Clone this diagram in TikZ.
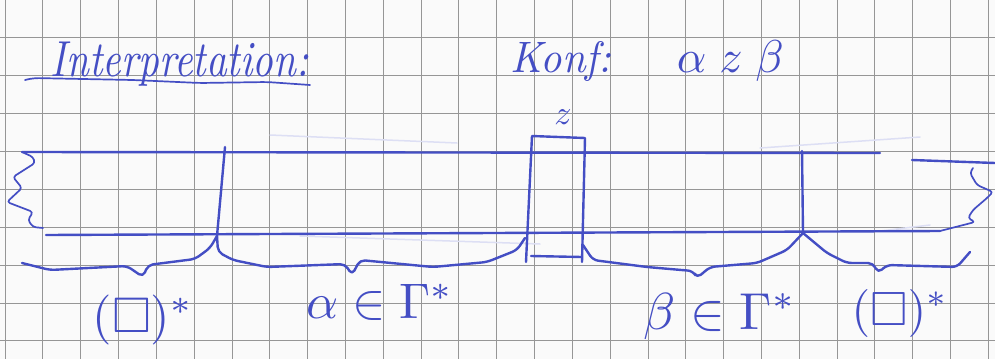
\documentclass[tikz,border=0pt]{standalone}
\usepackage{amssymb}
\usetikzlibrary{calc}
\definecolor{ink}{RGB}{68,78,196}
\definecolor{gridc}{RGB}{150,150,150}
\definecolor{paper}{RGB}{250,250,250}
\begin{document}
\begin{tikzpicture}[x=1pt,y=-1pt,
  pen/.style={draw=ink,line width=2.4pt,line cap=round,line join=round},
  thinpen/.style={draw=ink,line width=1.7pt,line cap=round,line join=round},
  faint/.style={draw=ink!18,line width=1.5pt,line cap=round},
  hand/.style={text=ink,inner sep=0pt},
  gridline/.style={draw=gridc,line width=0.8pt}]
\useasboundingbox (0,0) rectangle (995,359);
\fill[paper] (0,0) rectangle (995,359);
% grid paper
\foreach \k in {0,...,26} \draw[gridline] ({5+37.82*\k},0) -- ({5+37.82*\k},359);
\foreach \k in {0,...,9} \draw[gridline] (0,{-0.5+37.93*\k}) -- (995,{-0.5+37.93*\k});
% title
\node[hand,anchor=base west,font=\itshape,scale=4.6,xscale=0.88,yscale=1.1] (title) at (50,76) {Interpretation:};
\draw[thinpen,rounded corners=6pt] (25,80) -- (33,78) -- (133,80) -- (200,83) -- (267,82) -- (310,85);
\node[hand,anchor=base west,font=\itshape,scale=4.4,xscale=0.95] (konf) at (510,72) {Konf:};
\node[hand,anchor=base west,scale=4.6] (cfg) at (676,72) {$\alpha\; z\; \beta$};
% faint traces
\draw[faint] (270,135) -- (457,143);
\draw[faint] (760,148) -- (920,137);
\draw[faint] (300,236) -- (540,244);
\draw[faint] (880,231) -- (930,225);
% tape
\coordinate (tl) at (22,152);
\coordinate (tr) at (880,153);
\coordinate (bl) at (46,235);
\coordinate (br) at (940,231);
\draw[pen] (tl) -- (tr);
\draw[pen] (bl) -- (br);
\draw[thinpen,rounded corners=3pt] (tl) -- (33,157) -- (35,163) -- (13,177) -- (22,188) -- (7,202) -- (33,212) -- (28,220) -- (33,227) -- (43,228);
\coordinate (rtl) at (912,160);
\coordinate (rtr) at (995,163);
\draw[pen] (rtl) -- (rtr);
\draw[thinpen,rounded corners=3pt] (973,168) -- (970,173) -- (977,185) -- (993,192) -- (987,198) -- (973,210) -- (968,218) -- (975,222) -- (br);
% cell dividers
\coordinate (d1t) at (225,147); \coordinate (d1b) at (217,236);
\coordinate (d2t) at (802,151); \coordinate (d2b) at (803,233);
\draw[pen] (d1t) -- (d1b);
\draw[pen] (d2t) -- (d2b);
% head cell z
\coordinate (zbl) at (526,262); \coordinate (ztl) at (532,136);
\coordinate (ztr) at (585,138); \coordinate (zbr) at (582,262);
\draw[pen] (zbl) -- (ztl) -- (ztr) -- (zbr);
\draw[pen] (531,256) -- (582,257);
\node[hand,scale=3.4] (zlab) at (563,117) {$z$};
% braces
\draw[pen,rounded corners=5pt] (22,263) -- (50,270) -- (127,266) -- (143,277) -- (148,265) -- (195,259) -- (210,248) -- (d1b);
\draw[pen,rounded corners=5pt] (d1b) -- (218,252) -- (233,260) -- (267,267) -- (345,264) -- (352,275) -- (360,260) -- (433,267) -- (487,262) -- (517,250) -- (525,238);
\draw[pen,rounded corners=5pt] (583,245) -- (593,260) -- (647,267) -- (693,271) -- (697,278) -- (710,267) -- (757,263) -- (787,250) -- (d2b);
\draw[pen,rounded corners=5pt] (d2b) -- (827,253) -- (847,263) -- (873,263) -- (878,273) -- (887,265) -- (957,267) -- (970,252);
% labels
\node[hand,scale=5] (l1) at (143,320) {$(\square)^{*}$};
\node[hand,scale=5] (l2) at (380,302) {$\alpha\in\Gamma^{*}$};
\node[hand,scale=5.2] (l3) at (720,316) {$\beta\in\Gamma^{*}$};
\node[hand,scale=4.8] (l4) at (900,313) {$(\square)^{*}$};
\end{tikzpicture}
\end{document}
